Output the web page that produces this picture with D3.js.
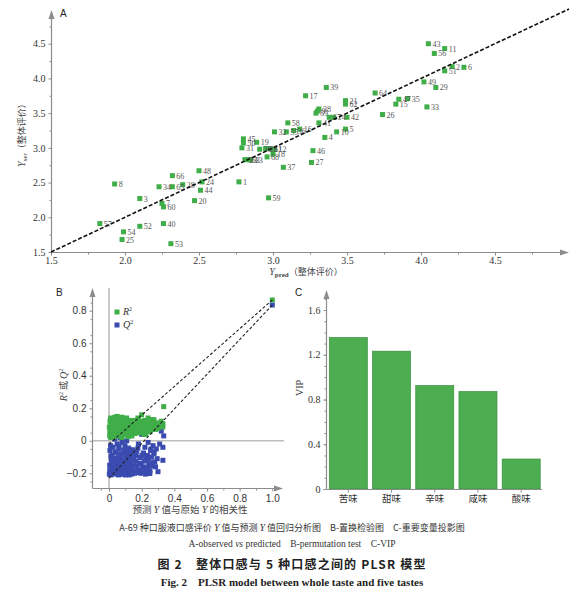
<!DOCTYPE html>
<html>
<head>
<meta charset="utf-8">
<script src="https://cdn.jsdelivr.net/npm/d3@7"></script>
<style>
  body { margin: 0; background: #fff; }
  svg { display: block; }
</style>
</head>
<body>
<div id="chart"></div>
<script>
// ---- panel A: observed vs predicted ----
var sampleIds = [1,2,3,4,5,6,7,8,9,10,11,12,13,14,15,16,17,18,19,20,21,22,23,24,25,26,27,28,29,30,
  31,32,33,34,35,36,37,38,39,40,41,42,43,44,45,46,47,48,49,50,51,52,53,54,55,56,57,58,59,60,
  61,62,63,64,65,66,67,68,69];
var yPred = [2.77,4.21,2.10,3.35,3.49,4.29,2.25,1.93,3.30,3.43,4.16,3.01,2.85,3.41,3.83,3.18,3.22,3.00,2.89,2.47,
  3.49,2.95,2.81,2.52,1.98,3.74,3.26,2.39,4.10,2.91,2.79,3.01,4.04,2.23,3.91,3.14,3.07,3.31,3.36,2.26,
  3.31,3.50,4.05,2.51,2.80,3.27,3.85,2.50,4.02,2.80,4.16,2.10,2.31,1.99,3.09,4.09,1.83,3.10,2.97,2.26,
  2.98,3.49,2.83,3.69,2.32,2.32,3.38,2.96,3.29];
var yObs = [2.51,4.17,2.27,3.15,3.27,4.16,2.20,2.48,3.53,3.23,4.43,2.98,2.83,3.44,3.63,3.27,3.75,2.91,3.08,2.24,
  3.68,2.99,2.83,2.51,1.68,3.48,2.79,2.47,3.87,2.98,3.00,3.23,3.59,2.44,3.71,3.25,2.72,3.56,3.87,1.91,
  3.36,3.44,4.50,2.39,3.13,2.96,3.70,2.67,3.95,3.07,4.11,1.87,1.62,1.79,3.23,4.36,1.91,3.36,2.28,2.15,
  2.99,3.63,2.83,3.79,2.44,2.60,3.44,2.87,3.50];
var ticksA = [1.5, 2.0, 2.5, 3.0, 3.5, 4.0, 4.5];
var minorA = [1.75, 2.25, 2.75, 3.25, 3.75, 4.25, 4.75];
var refLine = [1.5, 5.0];

// ---- panel B: permutation test ----
var permCorr = [0.002,0.004,0.006,0.008,0.010,0.012,0.015,0.018,0.020,0.022,0.025,0.028,0.030,0.032,0.035,0.038,
  0.040,0.043,0.045,0.048,0.050,0.053,0.055,0.058,0.060,0.063,0.065,0.068,0.070,0.072,0.075,0.078,0.080,0.083,
  0.085,0.088,0.090,0.093,0.095,0.098,0.100,0.103,0.105,0.108,0.110,0.113,0.115,0.118,0.120,0.123,0.125,0.128,
  0.130,0.133,0.135,0.138,0.140,0.145,0.150,0.155,0.160,0.165,0.170,0.175,0.180,0.185,0.190,0.195,0.200,0.205,
  0.210,0.215,0.220,0.225,0.230,0.235,0.240,0.245,0.250,0.255,0.260,0.265,0.270,0.275,0.280,0.290,0.300,0.310,
  0.320,0.330,0.335,0.330,
  0.005,0.012,0.018,0.024,0.031,0.037,0.044,0.051,0.057,0.064,0.071,0.077,0.084,0.091,0.097,0.104,0.111,0.117,
  0.124,0.131,0.137,0.144,0.151,0.157,0.164,0.171,0.177,0.184,0.191,0.197,0.204,0.211,0.217,0.224,0.231,0.237,
  0.244,0.251,0.257,0.264,0.015,0.027,0.041,0.062,0.079,0.095,0.108,0.126,0.142,0.158,0.172,0.188,0.203,0.219,
  0.233,0.248,0.262,0.276,0.285,0.295];
var permR2 = [0.085,0.030,0.120,0.055,0.140,0.020,0.095,0.070,0.110,0.045,0.130,0.060,0.100,0.025,0.145,0.080,
  0.050,0.115,0.035,0.090,0.150,0.065,0.105,0.040,0.125,0.075,0.030,0.135,0.095,0.055,0.110,0.020,0.145,0.070,
  0.100,0.045,0.120,0.085,0.060,0.130,0.035,0.105,0.075,0.140,0.050,0.115,0.090,0.025,0.125,0.065,0.100,0.040,
  0.110,0.080,0.055,0.095,0.030,0.120,0.070,0.105,0.045,0.090,0.115,0.060,0.130,0.080,0.100,0.050,0.160,0.075,
  0.110,0.040,0.125,0.090,0.065,0.105,0.140,0.080,0.055,0.100,0.120,0.070,0.090,0.130,0.085,0.110,0.075,0.095,
  0.120,0.085,0.210,0.105,
  0.060,0.115,0.040,0.095,0.075,0.130,0.050,0.105,0.085,0.065,0.120,0.045,0.100,0.070,0.135,0.055,0.090,0.110,
  0.035,0.080,0.125,0.060,0.095,0.045,0.115,0.075,0.140,0.050,0.105,0.085,0.065,0.120,0.090,0.040,0.110,0.075,
  0.100,0.060,0.130,0.085,0.105,0.050,0.080,0.140,0.065,0.115,0.040,0.095,0.070,0.125,0.055,0.090,0.110,0.075,
  0.100,0.060,0.085,0.115,0.070,0.095];
var permQ2 = [-0.205,-0.150,-0.060,-0.190,-0.030,-0.210,-0.120,-0.175,-0.090,-0.200,-0.040,-0.160,-0.110,-0.205,0.010,-0.140,
  -0.185,-0.070,-0.195,-0.130,-0.020,-0.170,-0.100,-0.210,-0.050,-0.150,-0.200,0.020,-0.115,-0.180,-0.080,-0.205,-0.010,-0.160,
  -0.125,-0.195,-0.060,-0.140,-0.175,-0.030,-0.210,-0.095,-0.150,0.000,-0.190,-0.070,-0.120,-0.200,-0.045,-0.165,-0.105,-0.185,
  -0.085,-0.135,-0.170,-0.110,-0.205,-0.055,-0.150,-0.090,-0.195,-0.125,-0.065,-0.180,-0.020,-0.140,-0.100,-0.200,0.040,-0.160,
  -0.075,-0.190,-0.040,-0.120,-0.170,-0.090,-0.010,-0.145,-0.200,-0.060,-0.100,-0.155,-0.030,-0.080,-0.130,-0.050,-0.190,-0.020,
  0.060,-0.040,0.030,-0.120,
  -0.180,-0.095,-0.200,-0.130,-0.160,-0.070,-0.195,-0.110,-0.145,-0.175,-0.085,-0.205,-0.120,-0.165,-0.055,-0.190,-0.135,-0.100,
  -0.210,-0.150,-0.075,-0.185,-0.115,-0.200,-0.090,-0.155,-0.045,-0.195,-0.105,-0.140,-0.170,-0.080,-0.125,-0.205,-0.095,-0.160,
  -0.110,-0.185,-0.050,-0.135,-0.100,-0.190,-0.150,-0.035,-0.170,-0.085,-0.205,-0.120,-0.165,-0.065,-0.195,-0.140,-0.090,-0.175,
  -0.115,-0.200,-0.150,-0.070,-0.160,-0.110];
var modelR2 = 0.866, modelQ2 = 0.835;
var r2Fit = [-0.02, 0.866];   // values at correlation 0 and 1
var q2Fit = [-0.23, 0.835];
var ticksB = [-0.2, 0, 0.2, 0.4, 0.6, 0.8];
var ticksBx = [0, 0.2, 0.4, 0.6, 0.8, 1.0];

// ---- panel C: VIP ----
var tastes = ['苦味', '甜味', '辛味', '咸味', '酸味'];
var vip = [1.354, 1.232, 0.925, 0.871, 0.268];
var ticksC = [0, 0.4, 0.8, 1.2, 1.6];

var serif = '"Liberation Serif","Times New Roman",serif';
var sans = '"Liberation Sans",Arial,sans-serif';
var cjk = '"Noto Sans CJK SC",sans-serif';
var axisColor = '#8c8c8c';
var green = '#3fae49', blue = '#3a4bb0';

var svg = d3.select('#chart').append('svg')
  .attr('width', 580)
  .attr('height', 597);

function arrowUp(g, x, y) {
  g.append('path').attr('d', 'M' + (x - 3) + ',' + (y + 9) + 'L' + x + ',' + y + 'L' + (x + 3) + ',' + (y + 9) + 'Z')
    .attr('fill', axisColor);
}
function arrowRight(g, x, y) {
  g.append('path').attr('d', 'M' + (x - 9) + ',' + (y - 3) + 'L' + x + ',' + y + 'L' + (x - 9) + ',' + (y + 3) + 'Z')
    .attr('fill', axisColor);
}
function styleAxis(sel, font, size) {
  sel.select('.domain').remove();
  sel.selectAll('line').attr('stroke', axisColor);
  sel.selectAll('text').attr('fill', '#333').style('font-family', font).style('font-size', size);
}

// =================== A ===================
var xA = d3.scaleLinear().domain([1.5, 5]).range([51, 569]);
var yA = d3.scaleLinear().domain([1.5, 5]).range([252, 9]);
var gA = svg.append('g');

gA.append('line').attr('x1', 51.5).attr('x2', 51.5).attr('y1', 252).attr('y2', 16)
  .attr('stroke', axisColor).attr('stroke-width', 1.2);
arrowUp(gA, 51.5, 10);
gA.append('line').attr('x1', 51).attr('x2', 562).attr('y1', 252.5).attr('y2', 252.5)
  .attr('stroke', axisColor).attr('stroke-width', 1.2);
arrowRight(gA, 569, 252.5);

gA.append('g').attr('transform', 'translate(51.5,0)')
  .call(d3.axisLeft(yA).tickValues(ticksA).tickSize(3).tickFormat(d3.format('.1f')))
  .call(styleAxis, serif, '10px');
gA.append('g').attr('transform', 'translate(51.5,0)')
  .call(d3.axisLeft(yA).tickValues(minorA).tickSize(2).tickFormat(''))
  .call(styleAxis, serif, '10px');
gA.append('g').attr('transform', 'translate(0,252.5)')
  .call(d3.axisBottom(xA).tickValues(ticksA).tickSize(3).tickPadding(1).tickFormat(d3.format('.1f')))
  .call(styleAxis, serif, '10px');
gA.append('g').attr('transform', 'translate(0,252.5)')
  .call(d3.axisBottom(xA).tickValues(minorA).tickSize(2).tickFormat(''))
  .call(styleAxis, serif, '10px');

gA.append('text').attr('x', 60).attr('y', 17).text('A')
  .style('font-family', sans).style('font-size', '10px').attr('fill', '#222');

var yLabA = gA.append('text').attr('transform', 'translate(25,133) rotate(-90)')
  .attr('text-anchor', 'middle').attr('fill', '#444').style('font-size', '9px');
yLabA.append('tspan').text('Y').style('font-family', serif).style('font-style', 'italic').style('font-size', '10px');
yLabA.append('tspan').text('ser').attr('dy', 2).style('font-family', serif).style('font-size', '7px');
yLabA.append('tspan').text('（整体评价）').attr('dy', -2).style('font-family', cjk);

var xLabA = gA.append('text').attr('x', 306).attr('y', 275)
  .attr('text-anchor', 'middle').attr('fill', '#444').style('font-size', '9px');
xLabA.append('tspan').text('Y').style('font-family', serif).style('font-style', 'italic').style('font-size', '10px');
xLabA.append('tspan').text('pred').attr('dy', 2).style('font-family', serif).style('font-size', '7px').style('font-weight', 'bold');
xLabA.append('tspan').text('（整体评价）').attr('dy', -2).style('font-family', cjk);

var ptsA = sampleIds.map(function(id, i) { return {id: id, x: yPred[i], y: yObs[i]}; });

gA.selectAll('.ptA').data(ptsA).enter().append('rect')
  .attr('class', 'ptA')
  .attr('x', function(d) { return xA(d.x) - 2.5; })
  .attr('y', function(d) { return yA(d.y) - 2.5; })
  .attr('width', 5).attr('height', 5)
  .attr('fill', green);

gA.selectAll('.lbA').data(ptsA).enter().append('text')
  .attr('class', 'lbA')
  .attr('x', function(d) { return xA(d.x) + 4; })
  .attr('y', function(d) { return yA(d.y) + 3; })
  .text(function(d) { return d.id; })
  .style('font-family', serif).style('font-size', '8px').attr('fill', '#555');

gA.append('path')
  .datum(refLine)
  .attr('d', d3.line().x(function(d) { return xA(d); }).y(function(d) { return yA(d); }))
  .attr('stroke', '#111').attr('stroke-width', 1.6).attr('stroke-dasharray', '4,2').attr('fill', 'none');

// =================== B ===================
var xB = d3.scaleLinear().domain([0, 1]).range([109, 272.3]);
var yB = d3.scaleLinear().domain([-0.2, 0.8]).range([473.3, 310.7]);
var gB = svg.append('g');
var bBottom = 488.5, bLeft = 92.5;

// reference lines at zero
gB.append('line').attr('x1', xB(0)).attr('x2', xB(0)).attr('y1', bBottom).attr('y2', 288)
  .attr('stroke', '#bdbdbd').attr('stroke-width', 1.6);
gB.append('line').attr('x1', bLeft).attr('x2', 284).attr('y1', yB(0)).attr('y2', yB(0))
  .attr('stroke', '#bdbdbd').attr('stroke-width', 1.6);

gB.append('line').attr('x1', bLeft).attr('x2', bLeft).attr('y1', bBottom).attr('y2', 294)
  .attr('stroke', axisColor).attr('stroke-width', 1.2);
arrowUp(gB, bLeft, 288);
gB.append('line').attr('x1', bLeft).attr('x2', 276).attr('y1', bBottom).attr('y2', bBottom)
  .attr('stroke', axisColor).attr('stroke-width', 1.2);
arrowRight(gB, 283, bBottom);

gB.append('g').attr('transform', 'translate(' + bLeft + ',0)')
  .call(d3.axisLeft(yB).tickValues(ticksB).tickSize(3)
    .tickFormat(function(d) { return d === 0 ? '0' : (d < 0 ? '\u22120.2' : d3.format('.1f')(d)); }))
  .call(styleAxis, sans, '10px');
gB.append('g').attr('transform', 'translate(' + bLeft + ',0)')
  .call(d3.axisLeft(yB).tickValues(d3.range(-0.25, 0.9, 0.1).map(function(v) { return +v.toFixed(2); })).tickSize(2).tickFormat(''))
  .call(styleAxis, sans, '10px');
gB.append('g').attr('transform', 'translate(0,' + bBottom + ')')
  .call(d3.axisBottom(xB).tickValues(ticksBx).tickSize(3)
    .tickFormat(function(d) { return d === 0 ? '0' : d3.format('.1f')(d); }))
  .call(styleAxis, sans, '10px');
gB.append('g').attr('transform', 'translate(0,' + bBottom + ')')
  .call(d3.axisBottom(xB).tickValues([-0.05, 0.1, 0.3, 0.5, 0.7, 0.9]).tickSize(2).tickFormat(''))
  .call(styleAxis, sans, '10px');

gB.append('text').attr('x', 56).attr('y', 296).text('B')
  .style('font-family', sans).style('font-size', '10px').attr('fill', '#222');

var yLabB = gB.append('text').attr('transform', 'translate(67,385) rotate(-90)')
  .attr('text-anchor', 'middle').attr('fill', '#444').style('font-size', '10px');
yLabB.append('tspan').text('R').style('font-family', serif).style('font-style', 'italic');
yLabB.append('tspan').text('2').attr('dy', -4).style('font-family', serif).style('font-size', '6px');
yLabB.append('tspan').text(' 或 ').attr('dy', 4).style('font-family', cjk).style('font-size', '9px');
yLabB.append('tspan').text('Q').style('font-family', serif).style('font-style', 'italic');
yLabB.append('tspan').text('2').attr('dy', -4).style('font-family', serif).style('font-size', '6px');

var xLabB = gB.append('text').attr('x', 190).attr('y', 513)
  .attr('text-anchor', 'middle').attr('fill', '#444').style('font-size', '9.5px').style('font-family', cjk);
xLabB.append('tspan').text('预测 ');
xLabB.append('tspan').text('Y').style('font-family', serif).style('font-style', 'italic').style('font-size', '10.5px');
xLabB.append('tspan').text(' 值与原始 ');
xLabB.append('tspan').text('Y').style('font-family', serif).style('font-style', 'italic').style('font-size', '10.5px');
xLabB.append('tspan').text(' 的相关性');

var perm = permCorr.map(function(c, i) { return {x: c, r2: permR2[i], q2: permQ2[i]}; });
perm.push({x: 1, r2: modelR2, q2: modelQ2});

gB.selectAll('.q2').data(perm).enter().append('rect')
  .attr('class', 'q2')
  .attr('x', function(d) { return xB(d.x) - 2.5; })
  .attr('y', function(d) { return yB(d.q2) - 2.5; })
  .attr('width', 5).attr('height', 5).attr('fill', blue);
gB.selectAll('.r2').data(perm).enter().append('rect')
  .attr('class', 'r2')
  .attr('x', function(d) { return xB(d.x) - 2.5; })
  .attr('y', function(d) { return yB(d.r2) - 2.5; })
  .attr('width', 5).attr('height', 5).attr('fill', green);

var fitLine = d3.line().x(function(d, i) { return xB(i); }).y(function(d) { return yB(d); });
[r2Fit, q2Fit].forEach(function(f) {
  gB.append('path').datum(f).attr('d', fitLine)
    .attr('stroke', '#222').attr('stroke-width', 1.1).attr('stroke-dasharray', '3,2').attr('fill', 'none');
});

var legB = [{c: green, t: 'R'}, {c: blue, t: 'Q'}];
legB.forEach(function(l, i) {
  gB.append('rect').attr('x', 114.5).attr('y', 309.5 + i * 13).attr('width', 5).attr('height', 5).attr('fill', l.c);
  var t = gB.append('text').attr('x', 123).attr('y', 315 + i * 13).attr('fill', '#333')
    .style('font-family', serif).style('font-size', '10px');
  t.append('tspan').text(l.t).style('font-style', 'italic');
  t.append('tspan').text('2').attr('dy', -4).style('font-size', '6px');
});

// =================== C ===================
var xC = d3.scaleBand().domain(tastes).range([328, 541.5]).paddingInner(0.12).paddingOuter(0.03);
var yC = d3.scaleLinear().domain([0, 1.6]).range([489, 310]);
var gC = svg.append('g');
var cLeft = 326.5;

gC.selectAll('.bar').data(tastes).enter().append('rect')
  .attr('class', 'bar')
  .attr('x', function(d) { return xC(d); })
  .attr('y', function(d, i) { return yC(vip[i]); })
  .attr('width', xC.bandwidth())
  .attr('height', function(d, i) { return yC(0) - yC(vip[i]); })
  .attr('fill', '#4cae50').attr('stroke', '#3b8f3f').attr('stroke-width', 0.7);

gC.append('line').attr('x1', cLeft).attr('x2', cLeft).attr('y1', 489).attr('y2', 296)
  .attr('stroke', axisColor).attr('stroke-width', 1.2);
arrowUp(gC, cLeft, 290);
gC.append('line').attr('x1', cLeft).attr('x2', 542).attr('y1', 489.5).attr('y2', 489.5)
  .attr('stroke', axisColor).attr('stroke-width', 1.2);

gC.append('g').attr('transform', 'translate(' + cLeft + ',0)')
  .call(d3.axisLeft(yC).tickValues(ticksC).tickSize(3)
    .tickFormat(function(d) { return d === 0 ? '0' : d3.format('.1f')(d); }))
  .call(styleAxis, serif, '10px');
gC.append('g').attr('transform', 'translate(' + cLeft + ',0)')
  .call(d3.axisLeft(yC).tickValues(d3.range(0.1, 1.75, 0.1).map(function(v) { return +v.toFixed(1); })).tickSize(2).tickFormat(''))
  .call(styleAxis, serif, '10px');
gC.append('g').attr('transform', 'translate(0,489.5)')
  .call(d3.axisBottom(xC).tickSize(3).tickPadding(3))
  .call(styleAxis, cjk, '9.5px');

gC.append('text').attr('x', 295).attr('y', 296).text('C')
  .style('font-family', sans).style('font-size', '10px').attr('fill', '#222');
gC.append('text').attr('transform', 'translate(303,388) rotate(-90)')
  .attr('text-anchor', 'middle').text('VIP').attr('fill', '#444')
  .style('font-family', serif).style('font-size', '10px');

// =================== captions ===================
var cap1 = svg.append('text').attr('x', 292).attr('y', 531).attr('text-anchor', 'middle')
  .attr('fill', '#333').style('font-family', cjk).style('font-size', '9px');
cap1.append('tspan').text('A-69 种口服液口感评价 ');
cap1.append('tspan').text('Y').style('font-family', serif).style('font-style', 'italic').style('font-size', '10px');
cap1.append('tspan').text(' 值与预测 ');
cap1.append('tspan').text('Y').style('font-family', serif).style('font-style', 'italic').style('font-size', '10px');
cap1.append('tspan').text(' 值回归分析图　B-置换检验图　C-重要变量投影图');

var cap2 = svg.append('text').attr('x', 292).attr('y', 547).attr('text-anchor', 'middle')
  .attr('fill', '#333').style('font-family', serif).style('font-size', '9.5px');
cap2.append('tspan').text('A-observed ');
cap2.append('tspan').text('vs').style('font-style', 'italic');
cap2.append('tspan').text(' predicted\u2003B-permutation test\u2003C-VIP');

svg.append('text').attr('x', 292).attr('y', 569).attr('text-anchor', 'middle')
  .attr('fill', '#222').style('font-family', cjk).style('font-size', '12px').style('font-weight', 'bold')
  .style('letter-spacing', '1.2px')
  .text('图 2\u3000整体口感与 5 种口感之间的 PLSR 模型');

svg.append('text').attr('x', 292).attr('y', 586).attr('text-anchor', 'middle')
  .attr('fill', '#222').style('font-family', serif).style('font-size', '11px').style('font-weight', 'bold')
  .text('Fig. 2\u2003PLSR model between whole taste and five tastes');
</script>
</body>
</html>
